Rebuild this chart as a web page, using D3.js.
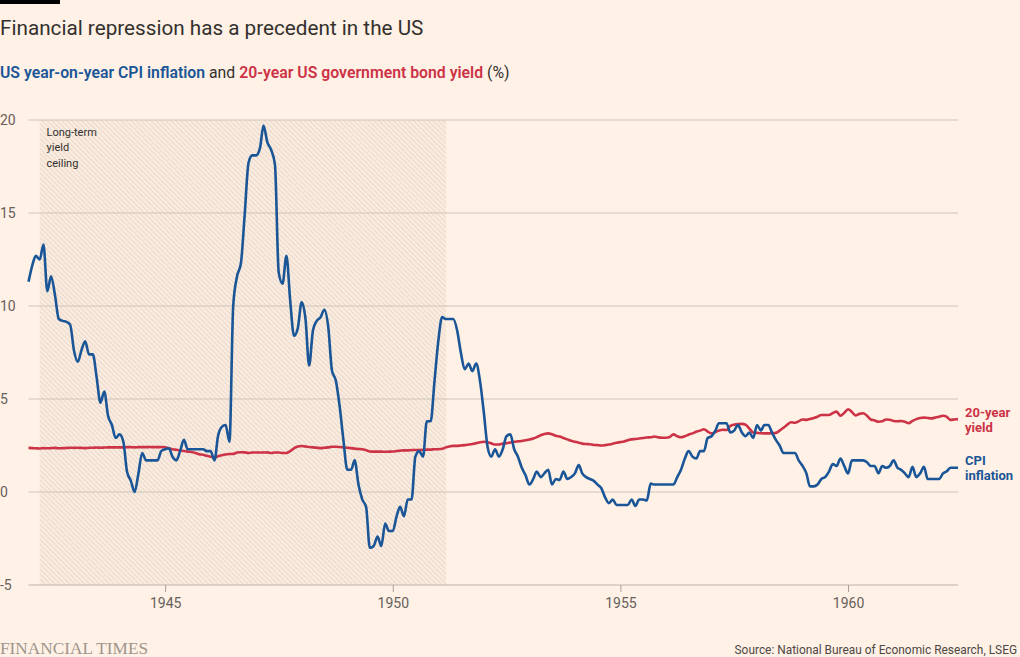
<!DOCTYPE html>
<html>
<head>
<meta charset="utf-8">
<script src="https://cdn.jsdelivr.net/npm/d3@7"></script>
<style>
  html, body { margin: 0; padding: 0; background: #fff1e5; }
  svg { display: block; font-family: Roboto, "Noto Sans", sans-serif; }
</style>
</head>
<body>
<svg id="chart" width="1020" height="657"></svg>
<script>
// ---------------- DATA ----------------
const startYear = 1942; // monthly series start: January 1942
const yTicks = [-5, 0, 5, 10, 15, 20];
const xTickYears = [1945, 1950, 1955, 1960];
const ceilingPeriod = ["1942-04-01", "1951-03-05"];
const ceilingLabel = ["Long-term", "yield", "ceiling"];

// US year-on-year CPI inflation (%), monthly Jan 1942 – Jun 1962
const cpi = [
  // 1942
  11.3, 12.2, 12.7, 12.5, 13.3, 10.8, 11.6, 10.6, 9.3, 9.2, 9.15, 9.0,
  // 1943
  7.6, 7.0, 7.6, 8.1, 7.4, 7.4, 6.2, 4.8, 5.4, 4.1, 3.6, 2.9,
  // 1944
  3.1, 2.7, 1.1, 0.6, 0.0, 1.0, 2.1, 1.7, 1.7, 1.7, 1.7, 2.2,
  // 1945
  2.3, 2.35, 1.9, 1.7, 2.2, 2.8, 2.3, 2.3, 2.3, 2.3, 2.3, 2.2,
  // 1946
  2.2, 1.7, 3.0, 3.5, 3.6, 2.7, 10.0, 11.6, 12.3, 14.9, 17.7, 18.1,
  // 1947
  18.1, 18.5, 19.7, 18.8, 18.4, 17.6, 11.8, 11.2, 12.7, 10.3, 8.4, 8.8,
  // 1948
  10.2, 9.3, 6.8, 8.7, 9.2, 9.4, 9.8, 8.9, 6.5, 6.0, 4.6, 2.8,
  // 1949
  1.2, 1.2, 1.7, 0.4, -0.4, -0.8, -3.0, -2.9, -2.4, -2.9, -1.7, -2.1,
  // 1950
  -2.1, -1.3, -0.8, -1.3, -0.4, -0.4, 1.9, 2.2, 1.9, 3.8, 3.8, 5.9,
  // 1951
  8.1, 9.4, 9.3, 9.3, 9.3, 8.7, 7.5, 6.6, 6.9, 6.5, 6.9, 6.0,
  // 1952
  4.3, 2.4, 1.9, 2.3, 1.9, 2.3, 3.0, 3.1, 2.3, 1.9, 1.3, 0.9,
  // 1953
  0.4, 0.7, 1.1, 0.8, 1.0, 1.2, 0.4, 0.7, 0.65, 1.1, 0.7, 0.8,
  // 1954
  1.0, 1.45, 1.0, 0.8, 0.7, 0.6, 0.4, 0.2, -0.3, -0.6, -0.4, -0.7,
  // 1955
  -0.7, -0.7, -0.7, -0.4, -0.75, -0.4, -0.4, -0.45, 0.45, 0.4, 0.4, 0.4,
  // 1956
  0.4, 0.4, 0.4, 0.8, 1.2, 1.8, 2.2, 1.9, 1.8, 2.2, 2.2, 2.9,
  // 1957
  3.0, 3.3, 3.7, 3.7, 3.7, 3.2, 3.3, 3.6, 3.2, 3.0, 3.2, 2.9,
  // 1958
  3.6, 3.3, 3.6, 3.6, 3.2, 2.8, 2.5, 2.1, 2.1, 2.1, 2.1, 1.7,
  // 1959
  1.4, 1.0, 0.3, 0.3, 0.4, 0.7, 0.8, 1.1, 1.5, 1.4, 1.8, 1.4,
  // 1960
  1.0, 1.7, 1.7, 1.7, 1.7, 1.6, 1.4, 1.4, 1.0, 1.4, 1.3, 1.4,
  // 1961
  1.7, 1.3, 1.2, 1.0, 0.8, 1.35, 0.8, 1.0, 1.35, 0.7, 0.7, 0.7,
  // 1962
  0.7, 1.0, 1.1, 1.3, 1.3, 1.3
];

// 20-year US government bond yield (%), monthly Jan 1942 – Jun 1962
const bondYield = [
  // 1942
  2.37, 2.36, 2.35, 2.34, 2.36, 2.35, 2.36, 2.37, 2.35, 2.36, 2.37, 2.38,
  // 1943
  2.37, 2.38, 2.37, 2.36, 2.38, 2.38, 2.39, 2.38, 2.39, 2.40, 2.40, 2.40,
  // 1944
  2.40, 2.40, 2.41, 2.41, 2.40, 2.41, 2.41, 2.41, 2.42, 2.41, 2.41, 2.42,
  // 1945
  2.40, 2.35, 2.30, 2.27, 2.24, 2.20, 2.17, 2.15, 2.10, 2.03, 2.00, 1.95,
  // 1946
  1.90, 1.87, 1.92, 1.98, 2.02, 2.04, 2.05, 2.12, 2.14, 2.13, 2.10, 2.12,
  // 1947
  2.12, 2.12, 2.12, 2.13, 2.10, 2.12, 2.12, 2.10, 2.10, 2.20, 2.35, 2.45,
  // 1948
  2.47, 2.45, 2.42, 2.40, 2.38, 2.36, 2.38, 2.40, 2.43, 2.43, 2.42, 2.40,
  // 1949
  2.38, 2.36, 2.33, 2.31, 2.30, 2.25, 2.18, 2.17, 2.17, 2.17, 2.16, 2.17,
  // 1950
  2.18, 2.20, 2.22, 2.24, 2.24, 2.25, 2.26, 2.26, 2.27, 2.28, 2.28, 2.30,
  // 1951
  2.30, 2.32, 2.40, 2.45, 2.48, 2.48, 2.50, 2.52, 2.55, 2.58, 2.62, 2.67,
  // 1952
  2.70, 2.68, 2.62, 2.55, 2.55, 2.60, 2.62, 2.66, 2.70, 2.72, 2.74, 2.78,
  // 1953
  2.82, 2.88, 2.95, 3.05, 3.12, 3.15, 3.10, 3.02, 2.98, 2.90, 2.83, 2.75,
  // 1954
  2.70, 2.65, 2.60, 2.58, 2.57, 2.53, 2.52, 2.50, 2.52, 2.55, 2.60, 2.65,
  // 1955
  2.68, 2.72, 2.78, 2.83, 2.85, 2.88, 2.90, 2.93, 2.94, 2.98, 2.94, 2.92,
  // 1956
  2.92, 2.96, 3.10, 3.00, 2.94, 3.00, 3.08, 3.15, 3.24, 3.30, 3.37, 3.25,
  // 1957
  3.15, 3.22, 3.30, 3.35, 3.33, 3.55, 3.62, 3.65, 3.66, 3.62, 3.40, 3.20,
  // 1958
  3.18, 3.16, 3.15, 3.15, 3.16, 3.18, 3.30, 3.45, 3.62, 3.75, 3.72, 3.80,
  // 1959
  3.90, 3.88, 3.92, 3.98, 4.05, 4.14, 4.14, 4.14, 4.25, 4.32, 4.10, 4.25,
  // 1960
  4.45, 4.30, 4.12, 4.20, 4.23, 4.10, 3.90, 3.85, 3.78, 3.80, 3.90, 3.88,
  // 1961
  3.82, 3.80, 3.82, 3.78, 3.70, 3.82, 3.92, 3.98, 4.00, 3.98, 3.96, 4.00,
  // 1962
  4.05, 4.10, 4.05, 3.88, 3.90, 3.92
];

// ---------------- CHART ----------------
const COLORS = {
  bg: "#fff1e5", text: "#33302e", muted: "#66605c", grid: "#cfc4b9",
  blue: "#1a5697", red: "#cc3346"
};

const svg = d3.select("#chart");
svg.append("rect").attr("width", 1020).attr("height", 657).attr("fill", COLORS.bg);

const months = cpi.map((_, i) => new Date(startYear, i, 1));
const cpiData = cpi.map((v, i) => ({ date: months[i], value: v }));
const yieldData = bondYield.map((v, i) => ({ date: months[i], value: v }));

const x = d3.scaleTime()
  .domain([new Date(startYear, 0, 1), months[months.length - 1]])
  .range([28.5, 958]);
const y = d3.scaleLinear().domain([-5, 20]).range([585, 120]);

// hatch pattern
const defs = svg.append("defs");
const pat = defs.append("pattern")
  .attr("id", "hatch").attr("patternUnits", "userSpaceOnUse")
  .attr("width", 3.5).attr("height", 3.5)
  .attr("patternTransform", "rotate(-45)");
pat.append("rect").attr("width", 3.5).attr("height", 3.5).attr("fill", "#f9ebdf");
pat.append("line").attr("x1", 0).attr("y1", 0).attr("x2", 0).attr("y2", 3.5)
  .attr("stroke", "#e4d0bf").attr("stroke-width", 1.3);

const x0 = x(new Date(ceilingPeriod[0])), x1 = x(new Date(ceilingPeriod[1]));
svg.append("rect")
  .attr("x", x0).attr("y", y(20))
  .attr("width", x1 - x0).attr("height", y(-5) - y(20))
  .attr("fill", "url(#hatch)");

// gridlines
const gridG = svg.append("g");
gridG.selectAll("line").data(yTicks).join("line")
  .attr("x1", x.range()[0]).attr("x2", x.range()[1])
  .attr("y1", d => y(d)).attr("y2", d => y(d))
  .attr("stroke", d => d === -5 ? "#bdb2a8" : COLORS.grid)
  .attr("stroke-width", 1);

// y labels
svg.append("g").selectAll("text").data(yTicks).join("text")
  .attr("x", 0).attr("y", d => y(d)).attr("dy", "0.36em")
  .attr("fill", COLORS.muted).attr("font-size", 14)
  .text(d => d);

// x axis ticks
const xAxis = d3.axisBottom(x)
  .tickValues(xTickYears.map(yr => new Date(yr, 0, 1)))
  .tickFormat(d3.timeFormat("%Y"))
  .tickSize(7).tickPadding(6);
const xg = svg.append("g").attr("transform", `translate(0,${y(-5)})`).call(xAxis);
xg.select(".domain").remove();
xg.selectAll(".tick line").attr("stroke", "#a8a09a");
xg.selectAll(".tick text").attr("fill", COLORS.muted).attr("font-size", 14)
  .attr("font-family", "Roboto, sans-serif");

// annotation
svg.append("g").selectAll("text").data(ceilingLabel).join("text")
  .attr("x", 46.5).attr("y", (d, i) => 136 + i * 15.3)
  .attr("fill", COLORS.text).attr("font-size", 11)
  .text(d => d);

// lines
const line = d3.line().x(d => x(d.date)).y(d => y(d.value)).curve(d3.curveMonotoneX);
svg.append("path").datum(yieldData).attr("d", line)
  .attr("fill", "none").attr("stroke", COLORS.red).attr("stroke-width", 2.6)
  .attr("stroke-linejoin", "round");
svg.append("path").datum(cpiData).attr("d", line)
  .attr("fill", "none").attr("stroke", COLORS.blue).attr("stroke-width", 2.6)
  .attr("stroke-linejoin", "round");

// line labels
const lbl = svg.append("g").attr("font-size", 13).attr("font-weight", 700);
lbl.append("text").attr("x", 965).attr("y", 417).attr("fill", COLORS.red).text("20-year");
lbl.append("text").attr("x", 965).attr("y", 432).attr("fill", COLORS.red).text("yield");
lbl.append("text").attr("x", 965).attr("y", 465).attr("fill", COLORS.blue).text("CPI");
lbl.append("text").attr("x", 965).attr("y", 480).attr("fill", COLORS.blue).text("inflation");

// title & subtitle
svg.append("rect").attr("x", 0).attr("y", 0).attr("width", 60).attr("height", 4).attr("fill", "#000");
svg.append("text").attr("x", 0).attr("y", 35)
  .attr("fill", COLORS.text).attr("font-size", 20.7)
  .text("Financial repression has a precedent in the US");

const sub = svg.append("text").attr("x", 0).attr("y", 78).attr("font-size", 15.8);
sub.append("tspan").attr("fill", COLORS.blue).attr("font-weight", 600).text("US year-on-year CPI inflation");
sub.append("tspan").attr("fill", COLORS.text).text(" and ");
sub.append("tspan").attr("fill", COLORS.red).attr("font-weight", 600).text("20-year US government bond yield");
sub.append("tspan").attr("fill", COLORS.text).text(" (%)");

// footer
svg.append("text").attr("x", 0).attr("y", 654)
  .attr("font-family", "'Liberation Serif', 'DejaVu Serif', serif")
  .attr("font-size", 17).attr("fill", "#9e958d")
  .attr("textLength", 148).attr("lengthAdjust", "spacingAndGlyphs")
  .text("FINANCIAL TIMES");
svg.append("text").attr("x", 1017).attr("y", 654).attr("text-anchor", "end")
  .attr("font-size", 11.9).attr("fill", "#4d4845")
  .text("Source: National Bureau of Economic Research, LSEG");
</script>
</body>
</html>
